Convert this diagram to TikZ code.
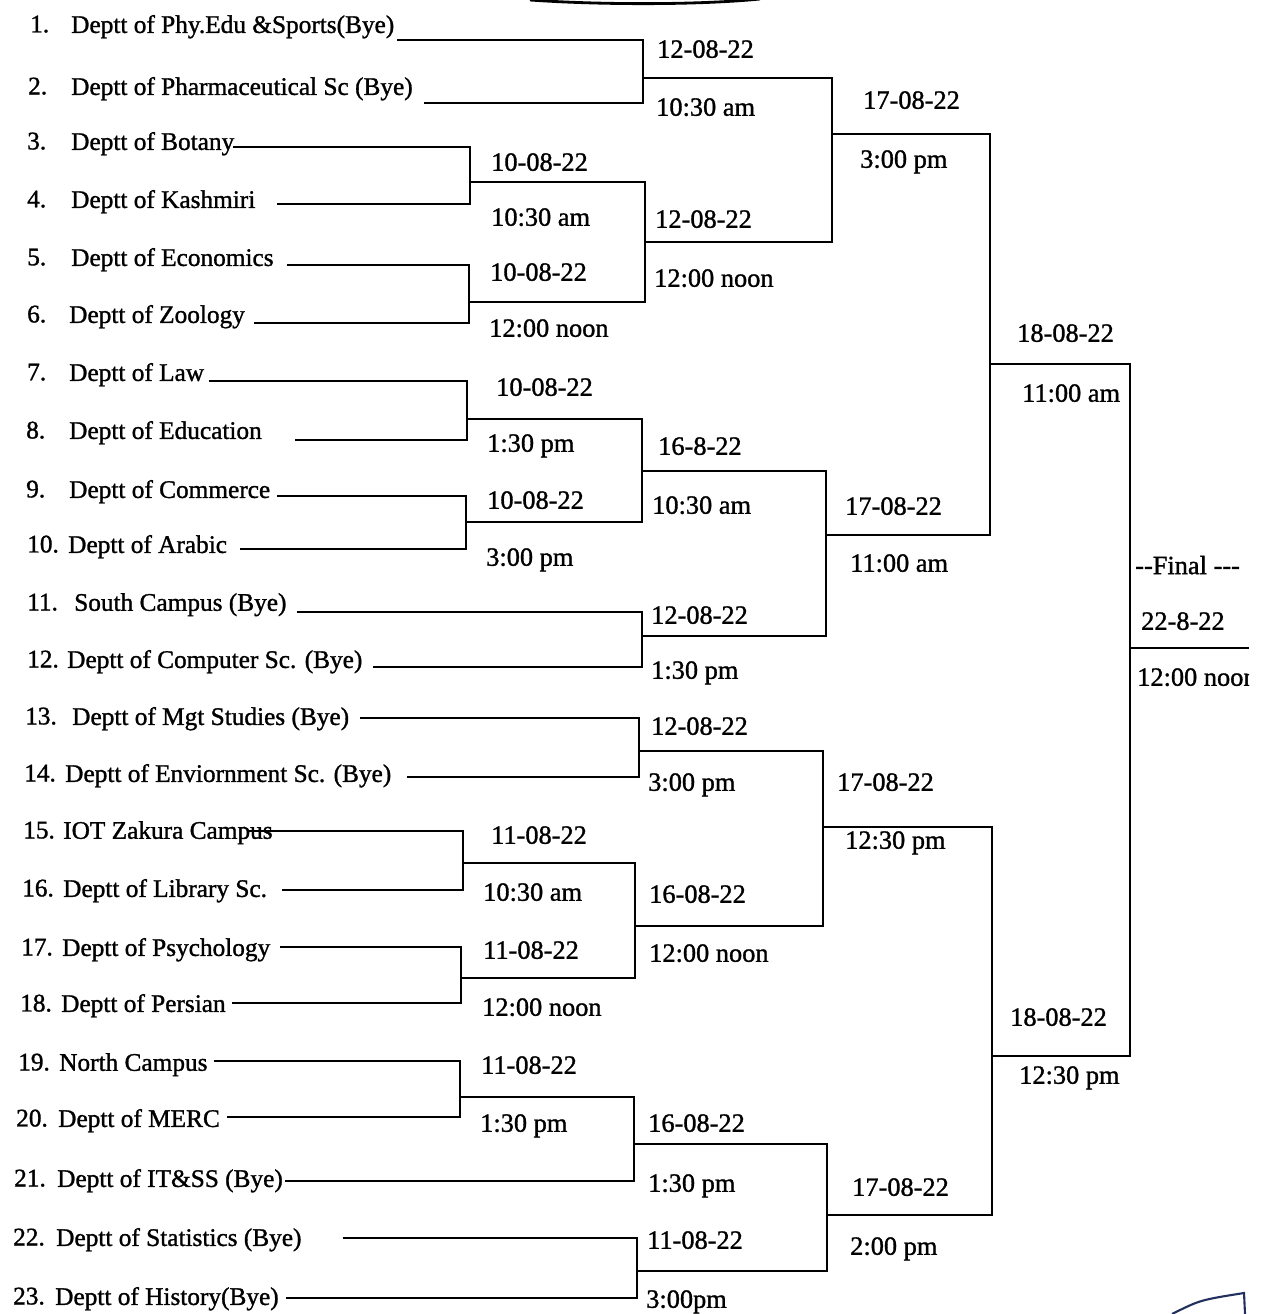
\documentclass[tikz,border=0pt]{standalone}
\usepackage{fontspec}
\setmainfont{Liberation Serif}[FakeBold=1.2]
\newfontfamily\labelfont{Liberation Serif}[FakeBold=1.2]
\usetikzlibrary{positioning,calc}
\definecolor{Ink}{HTML}{22305E}
\begin{document}
\begin{tikzpicture}[x=0.02cm,y=-0.02cm,line width=1.4pt,team/.style={inner sep=0pt,text depth=0pt,anchor=west,font=\labelfont\fontsize{14.4}{17}\selectfont},dt/.style={inner sep=0pt,text depth=0pt,anchor=west,font=\labelfont\fontsize{15}{18}\selectfont}]
\useasboundingbox (0,0) rectangle (1261,1314);
\clip (0,-5) rectangle (1249,1320);
\foreach \i/\nx/\tx/\ty/\ly/\g/\name in {1/29/70/24/40/2/Deptt of Phy.Edu \&Sports(Bye),2/27/70/86/103/10/Deptt of Pharmaceutical Sc (Bye),3/26/70/141/147/-2/Deptt of Botany,4/26/70/199/204/20/Deptt of Kashmiri,5/26/70/257/265/12/Deptt of Economics,6/26/68/314/323/8/Deptt of Zoology,7/26/68/372/381/4/Deptt of Law,8/25/68/430/440/32/Deptt of Education,9/25/68/489/496/6/Deptt of Commerce,10/26/67/544/549/12/Deptt of Arabic,11/26/73/602/612/9/South Campus (Bye),12/26/66/659/667/9/Deptt of Computer Sc. (Bye),13/24/71/716/718/10/Deptt of Mgt Studies (Bye),14/23/64/773/777/15/Deptt of Enviornment Sc. (Bye),15/22/62/830/831/-27/IOT Zakura Campus,16/21/62/888/890/14/Deptt of Library Sc.,17/20/61/947/947/9/Deptt of Psychology,18/19/60/1003/1003/5/Deptt of Persian,19/17/58/1062/1061/5/North Campus,20/15/57/1118/1117/6/Deptt of MERC,21/13/56/1178/1181/1/Deptt of IT\&SS (Bye),22/12/55/1237/1238/40/Deptt of Statistics (Bye),23/12/54/1296/1298/6/Deptt of History(Bye)}{
\node[team](n\i) at (\nx,\ty){\i.};
\node[team](t\i) at (\tx,\ty){\name};
\path (t\i.east) ++(\g,0) coordinate (e\i);
\coordinate (s\i) at (e\i |- 0,\ly);}
\foreach \m/\x/\y in {m34/470/182,m56/469/302,m78/467/419,m910/466/522,m1516/463/863,m1718/461/978,m1920/460/1097,m12/643/78,mA/645/242,mB/642/471,m1112/642/636,m1314/639/751,mC/635/926,mD/634/1144,m2223/637/1271,mE/832/134,mF/826/535,mG/823/827,mH/827/1215,mI/990/364,mJ/992/1056,mK/1130/648}{\coordinate (\m) at (\x,\y);}
\coordinate (fin) at (1249,648);
\foreach \a/\b/\m in {s1/s2/m12,s3/s4/m34,s5/s6/m56,s7/s8/m78,s9/s10/m910,s11/s12/m1112,s13/s14/m1314,s15/s16/m1516,s17/s18/m1718,s19/s20/m1920,s22/s23/m2223,m34/m56/mA,m78/m910/mB,m1516/m1718/mC,m1920/s21/mD,m12/mA/mE,mB/m1112/mF,m1314/mC/mG,mD/m2223/mH,mE/mF/mI,mG/mH/mJ,mI/mJ/mK}{\draw (\a) -| (\m) |- (\b);}
\draw (mK) -- (fin);
\foreach \m/\dx/\dy/\hx/\hy/\d/\h in {m34/490/162/490/217/10-08-22/10:30 am,m56/489/272/488/328/10-08-22/12:00 noon,m78/495/387/486/443/10-08-22/1:30 pm,m910/486/500/485/557/10-08-22/3:00 pm,m1516/490/835/482/892/11-08-22/10:30 am,m1718/482/950/481/1007/11-08-22/12:00 noon,m1920/480/1065/479/1123/11-08-22/1:30 pm,m12/656/49/655/107/12-08-22/10:30 am,mA/654/219/653/278/12-08-22/12:00 noon,mB/657/446/651/505/16-8-22/10:30 am,m1112/650/615/650/670/12-08-22/1:30 pm,m1314/650/726/647/782/12-08-22/3:00 pm,mC/648/894/648/953/16-08-22/12:00 noon,mD/647/1123/647/1183/16-08-22/1:30 pm,m2223/646/1240/645/1299/11-08-22/3:00pm,mE/862/100/859/159/17-08-22/3:00 pm,mF/844/506/849/563/17-08-22/11:00 am,mG/836/782/844/840/17-08-22/12:30 pm,mH/851/1187/849/1246/17-08-22/2:00 pm,mI/1016/333/1021/393/18-08-22/11:00 am,mJ/1009/1017/1018/1075/18-08-22/12:30 pm,mK/1140/621/1136/677/22-8-22/12:00 noon}{
\node[dt](d\m) at (\dx,\dy){\d};
\node[dt](h\m) at (\hx,\hy){\h};}
\node[dt](final) at (1134,565){-{}-Final -{}-{}-};
\draw[line width=1.6pt] (530,0) .. controls (600,5) and (700,5) .. (760,-1);
\draw[Ink,line width=1.2pt] (1172,1314) .. controls (1200,1300) .. (1244,1293) -- (1245,1314);
\end{tikzpicture}
\end{document}
